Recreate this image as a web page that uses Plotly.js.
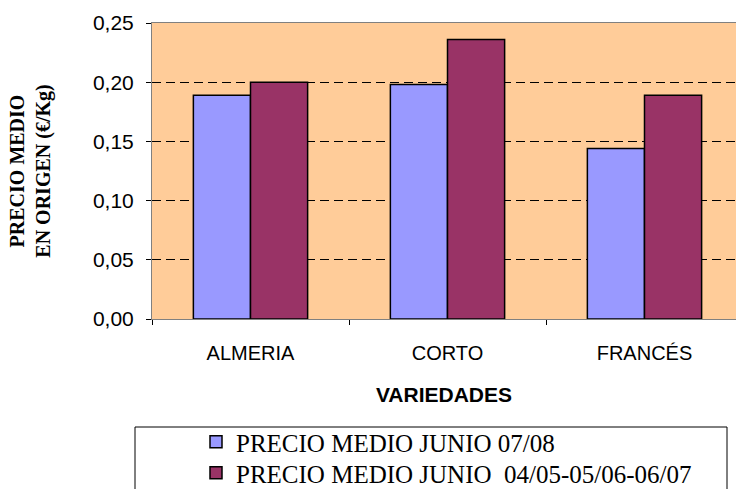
<!DOCTYPE html>
<html><head><meta charset="utf-8">
<script src="https://cdn.plot.ly/plotly-3.0.1.min.js"></script>
<style>html,body{margin:0;padding:0;background:#fff;overflow:hidden}#chart{width:736px;height:489px}</style>
</head><body><div id="chart"></div>
<script>
const categories = ["ALMERIA", "CORTO", "FRANCÉS"];
const series1Name = "PRECIO MEDIO JUNIO 07/08";
const series1Values = [0.189, 0.198, 0.144];
const series2Name = "PRECIO MEDIO JUNIO \u00a004/05-05/06-06/07";
const series2Values = [0.200, 0.236, 0.189];
const yTickValues = [0, 0.05, 0.10, 0.15, 0.20, 0.25];
const xTitle = "VARIEDADES";
const yTitle = "PRECIO MEDIO<br>EN ORIGEN (€/Kg)";

const traces = [
  {type: "bar", x: categories, y: series1Values, name: series1Name, legend: "legend",
   marker: {color: "#9999FF", line: {color: "#000000", width: 1.5}}},
  {type: "bar", x: categories, y: series2Values, name: series2Name, legend: "legend2",
   marker: {color: "#993366", line: {color: "#000000", width: 1.5}}}
];

// plot area in page pixels: left 152, top 23, bottom 319; right edge cut at 736
const PL = 152, PT = 23, PB = 319, PW = 736 - 152, PH = 319 - 23;
const px2x = p => (p - PL) / PW;
const px2y = p => (PB - p) / PH;

const legendFont = {family: "Liberation Serif, Times New Roman", size: 25, color: "#000000"};

const layout = {
  width: 736, height: 489,
  margin: {l: 152, r: 0, t: 23, b: 170, pad: 0, autoexpand: false},
  paper_bgcolor: "#ffffff",
  plot_bgcolor: "#FFCC99",
  separators: ",.",
  barmode: "group",
  bargap: 0.42,
  bargroupgap: 0,
  showlegend: true,
  xaxis: {
    type: "category", range: [-0.5, 2.4645],
    showline: true, linecolor: "#808080", linewidth: 1, mirror: true,
    ticks: "outside", tickson: "boundaries", ticklen: 5, tickcolor: "#000000",
    ticklabelstandoff: 16,
    tickfont: {family: "Liberation Sans, Arial", size: 20, color: "#000000"},
    showgrid: false, automargin: false,
    title: {text: xTitle, standoff: 24,
            font: {family: "Liberation Sans, Arial", size: 21, color: "#000000", weight: "bold"}}
  },
  yaxis: {
    range: [0, 0.25], tickvals: yTickValues, tickformat: ".2f",
    showline: true, linecolor: "#808080", linewidth: 1,
    ticks: "outside", ticklen: 5, tickcolor: "#000000",
    ticklabelstandoff: 8,
    tickfont: {family: "Liberation Sans, Arial", size: 21, color: "#000000"},
    showgrid: true, gridcolor: "#000000", gridwidth: 1, griddash: "9px,5px",
    zeroline: false, automargin: false,
    title: {text: yTitle, standoff: 36,
            font: {family: "Liberation Serif, Times New Roman", size: 20, color: "#000000", weight: "bold"}}
  },
  legend: {
    x: px2x(196), xanchor: "left",
    y: px2y(442), yanchor: "middle",
    bgcolor: "rgba(0,0,0,0)", borderwidth: 0,
    itemwidth: 30, font: legendFont
  },
  legend2: {
    x: px2x(196), xanchor: "left",
    y: px2y(473), yanchor: "middle",
    bgcolor: "rgba(0,0,0,0)", borderwidth: 0,
    itemwidth: 30, font: legendFont
  },
  shapes: [
    {type: "rect", xref: "paper", yref: "paper",
     x0: px2x(135), x1: px2x(727),
     y0: px2y(427), y1: px2y(520),
     line: {color: "#000000", width: 1}, fillcolor: "rgba(0,0,0,0)", layer: "below"}
  ]
};

Plotly.newPlot("chart", traces, layout, {displayModeBar: false, staticPlot: true});
</script>
</body></html>
